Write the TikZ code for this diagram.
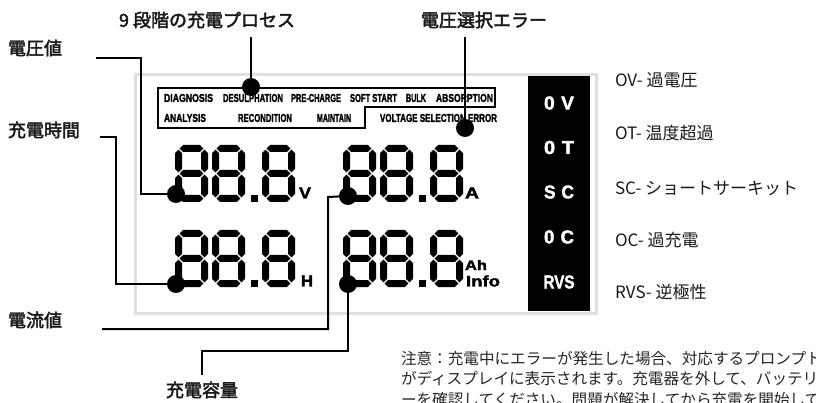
\documentclass[tikz,border=0pt]{standalone}
\usepackage{fontspec}
\usepackage{graphicx}
\setmainfont{Liberation Sans}
\newfontfamily\jp{Noto Sans CJK JP}
\newfontfamily\jpm[FakeBold=2.5]{Noto Sans CJK JP}
\newfontfamily\heavy[FakeBold=2]{Liberation Sans}
\def\W{33}\def\H{57}\def\T{7}\def\g{1.1}
\newcommand\hsegm[3]{\fill (#1+\g,#3) -- (#1+\g+\T/2,#3-\T/2) -- (#2-\g-\T/2,#3-\T/2) -- (#2-\g,#3) -- (#2-\g-\T/2,#3+\T/2) -- (#1+\g+\T/2,#3+\T/2) -- cycle;}
\newcommand\vsegm[3]{\fill (#1,#2+\g) -- (#1+\T/2,#2+\g+\T/2) -- (#1+\T/2,#3-\g-\T/2) -- (#1,#3-\g) -- (#1-\T/2,#3-\g-\T/2) -- (#1-\T/2,#2+\g+\T/2) -- cycle;}
\newcommand\lw[3]{\resizebox{#1pt}{#2pt}{\heavy\bfseries #3}}
\tikzset{
  segdigit/.pic={
    \hsegm{\T/2}{\W-\T/2}{\T/2}
    \hsegm{\T/2}{\W-\T/2}{\H/2}
    \hsegm{\T/2}{\W-\T/2}{\H-\T/2}
    \vsegm{\T/2}{\T/2}{\H/2}
    \vsegm{\T/2}{\H/2}{\H-\T/2}
    \vsegm{\W-\T/2}{\T/2}{\H/2}
    \vsegm{\W-\T/2}{\H/2}{\H-\T/2}
  },
  lcdnum/.pic={
    \pic at (0,0) {segdigit};
    \pic at (37,0) {segdigit};
    \pic at (87,0) {segdigit};
    \fill (76,50) rectangle (83,57);
  }
}
\begin{document}
\begin{tikzpicture}[x=1pt,y=-1pt,line width=2pt,
  dotc/.style={circle,fill=black,inner sep=0pt,minimum size=18pt},
  jpl/.style={font=\jpm\fontsize{18}{20}\selectfont,inner sep=0pt,text=black!90},
  jpr/.style={font=\jp\fontsize{17}{20}\selectfont,inner sep=0pt,anchor=west,text=black!90},
  lcdt/.style={inner sep=0pt,anchor=west},
  unitt/.style={inner sep=0pt},
  errt/.style={inner sep=0pt,text=white},
  note/.style={font=\jp\fontsize{15.6}{20.5}\selectfont,inner sep=0pt,anchor=north west,align=left,text=black!85}]
\useasboundingbox (0,0) rectangle (816,403);
\clip (0,0) rectangle (816,403);
% LCD panel
\draw[line width=3pt,draw=black!12,fill=white] (135,75) rectangle (596,313);
\fill[black] (528,76) rectangle (590,311);
% stage box
\draw[line width=1.6pt] (158,88) -- (495,88) -- (495,107) -- (365,107) -- (365,128) -- (158,128) -- cycle;
\node[lcdt] (s1) at (163,98) {\lw{49}{8}{DIAGNOSIS}};
\node[lcdt] (s2) at (222,98) {\lw{60}{8}{DESULPHATION}};
\node[lcdt] (s3) at (290,98) {\lw{50}{8}{PRE-CHARGE}};
\node[lcdt] (s4) at (349,98) {\lw{47}{8}{SOFT START}};
\node[lcdt] (s5) at (405,98) {\lw{20}{8}{BULK}};
\node[lcdt] (s6) at (435,98) {\lw{57}{8}{ABSORPTION}};
\node[lcdt] (s7) at (163,118) {\lw{42}{8}{ANALYSIS}};
\node[lcdt] (s8) at (237,118) {\lw{54}{8}{RECONDITION}};
\node[lcdt] (s9) at (316,118) {\lw{34}{8}{MAINTAIN}};
\node[lcdt] (s10) at (379,118) {\lw{117}{8}{VOLTAGE SELECTION ERROR}};
% digits
\pic at (175,145) {lcdnum};
\pic at (343,145) {lcdnum};
\pic at (175,230) {lcdnum};
\pic at (343,230) {lcdnum};
\node[unitt] (uV) at (305,193) {\lw{12}{11}{V}};
\node[unitt] (uA) at (472,193) {\lw{14}{11}{A}};
\node[unitt] (uH) at (307,281) {\lw{12}{11}{H}};
\node[unitt] (uAh) at (476,265) {\lw{22}{10}{Ah}};
\node[unitt] (uI) at (483,281) {\lw{34}{11}{Info}};
% error column
\node[errt] (e1) at (559,103) {\lw{30}{13}{0\,\,V}};
\node[errt] (e2) at (559,147.5) {\lw{30}{13}{0\,\,T}};
\node[errt] (e3) at (559,192) {\lw{30}{13}{S\,\,C}};
\node[errt] (e4) at (559,237) {\lw{30}{13}{0\,\,C}};
\node[errt] (e5) at (559,282) {\lw{31}{13}{RVS}};
% right labels
\node[jpr] (r1) at (614,80) {OV- 過電圧};
\node[jpr] (r2) at (614,133) {OT- 温度超過};
\node[jpr] (r3) at (614,188) {SC- ショートサーキット};
\node[jpr] (r4) at (614,240) {OC- 過充電};
\node[jpr] (r5) at (614,292) {RVS- 逆極性};
% dots
\node[dotc] (dS) at (251,87) {};
\node[dotc] (dE) at (465,128) {};
\node[dotc] (dV) at (176,194) {};
\node[dotc] (dA) at (348,196) {};
\node[dotc] (dH) at (176,284) {};
\node[dotc] (dAh) at (348,284) {};
% labels
\node[jpl] (tS) at (207,20) {9 段階の充電プロセス};
\node[jpl] (tE) at (484,20) {電圧選択エラー};
\node[jpl,anchor=west] (lV) at (7,48) {電圧値};
\node[jpl,anchor=west] (lH) at (7,130) {充電時間};
\node[jpl,anchor=west] (lA) at (7,320) {電流値};
\node[jpl] (lAh) at (202,390) {充電容量};
% connectors
\coordinate (cS) at (251,37);
\coordinate (cE) at (465,37);
\coordinate (cV) at (96,58);
\coordinate (cH) at (100,137);
\coordinate (cA) at (102,329);
\coordinate (cAh) at (202,375);
\draw (cS) -- (dS.center);
\draw (cE) -- (dE.center);
\draw (cV) -- (141,58) -- (141,194) -- (dV.center);
\draw (cH) -- (116,137) -- (116,284) -- (dH.center);
\draw (cA) -- (328,329) -- (328,197) -- (dA.center);
\draw (cAh) -- (202,351) -- (348,351) -- (dAh.center);
% note
\node[note] (nt) at (400,350) {注意：充電中にエラーが発生した場合、対応するプロンプト\\がディスプレイに表示されます。充電器を外して、バッテリ\\ーを確認してください。問題が解決してから充電を開始して};
\end{tikzpicture}
\end{document}
